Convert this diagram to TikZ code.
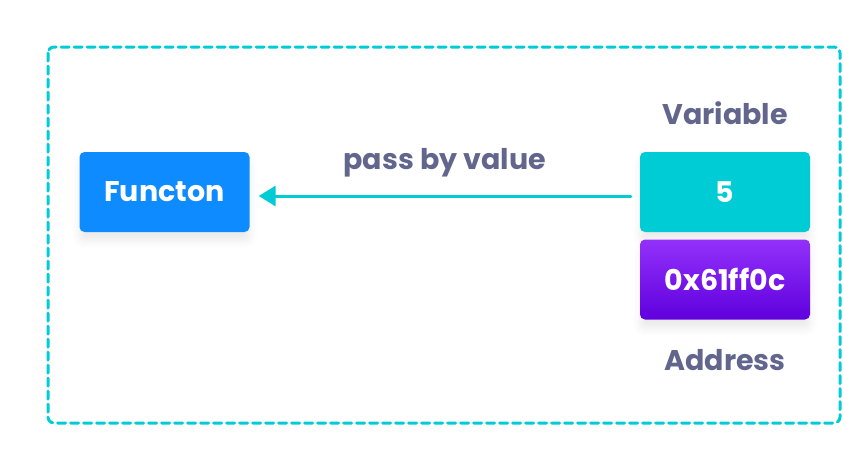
\documentclass[tikz,border=0pt]{standalone}
\usepackage{fontspec}
\setmainfont{Poppins}
\usetikzlibrary{arrows.meta,shadows.blur}
\definecolor{teal}{HTML}{00CCD6}
\definecolor{fnblue}{HTML}{0E8BFF}
\definecolor{labelgrey}{HTML}{62668C}
\definecolor{purpletop}{HTML}{9331FA}
\definecolor{purplebot}{HTML}{5F00DE}
\tikzset{
  x=1pt, y=-1pt,
  box/.style={minimum width=170pt, minimum height=80pt, rounded corners=5pt,
    text=white, font=\bfseries\fontsize{28.5}{32}\selectfont,
    blur shadow={shadow xshift=0pt, shadow yshift=-9pt, shadow opacity=8,
      shadow blur radius=8pt}},
  caption/.style={text=labelgrey, font=\bfseries\fontsize{28.5}{32}\selectfont},
  frame/.style={draw=teal, line width=3pt, dash pattern=on 8pt off 5pt,
    line cap=round, rounded corners=6pt},
  link/.style={draw=teal, line width=3pt, line cap=round,
    -{Triangle[length=17pt,width=20pt]}}
}
\begin{document}
\begin{tikzpicture}
  \useasboundingbox (0,0) rectangle (844,467);
  % outer dashed frame
  \draw[frame] (48,47) rectangle (840,423);
  % function box
  \node[box, fill=fnblue] (fn) at (164.5,192) {Functon};
  % variable value and its address
  \node[box, fill=teal] (var) at (725,192) {5};
  \node[box, top color=purpletop, bottom color=purplebot] (addr) at (725,279.5) {0x61ff0c};
  \node[caption] (varlbl) at (725,113) {Variable};
  \node[caption] (addrlbl) at (725,360) {Address};
  % passing the value to the function
  \draw[link] ([xshift=-9pt,yshift=-4pt]var.west) -- ([xshift=9pt,yshift=-4pt]fn.east)
    node[midway, above=14pt, caption] (passlbl) {pass by value};
\end{tikzpicture}
\end{document}
